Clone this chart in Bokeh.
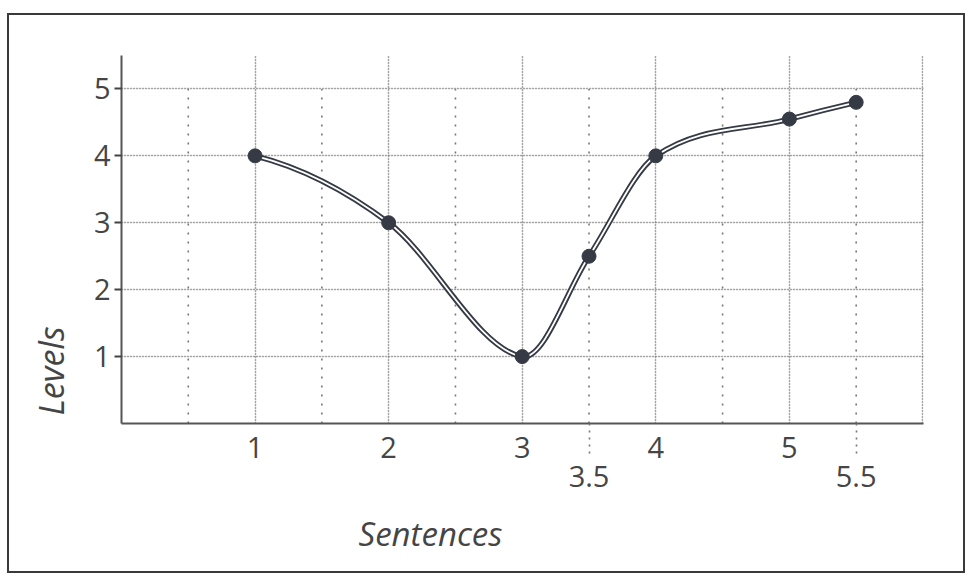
from bokeh.plotting import figure
from bokeh.models import (LinearAxis, FixedTicker, Grid, Range1d, Title)
from bokeh.embed import file_html
from bokeh.resources import INLINE

# ---- data ----
sentences = [1, 2, 3, 3.5, 4, 5, 5.5]
levels = [4, 3, 1, 2.5, 4, 4.55, 4.8]
x_ticks_row1 = [1, 2, 3, 4, 5]
x_ticks_row2 = [3.5, 5.5]
y_ticks = [1, 2, 3, 4, 5]
x_grid_major = [1, 2, 3, 4, 5, 6]
x_grid_half = [0.5, 1.5, 2.5, 3.5, 4.5, 5.5]
x_title = "Sentences"
y_title = "Levels"

FONT = "Open Sans"
TXT = "#454545"
DARK = "#353a45"

p = figure(width=958, height=560, output_backend="svg", toolbar_location=None,
           x_axis_location=None, y_axis_location=None,
           x_range=Range1d(0, 6.004), y_range=Range1d(0, 5.5),
           min_border_left=112, min_border_right=44, min_border_top=40,
           min_border_bottom=152)
p.margin = (13, 0, 0, 7)
p.styles = {"border": "2px solid #3a3a3a", "box-sizing": "border-box"}
p.outline_line_color = None
p.background_fill_color = "white"
p.border_fill_color = "white"

# grids
gx = Grid(dimension=0, ticker=FixedTicker(ticks=x_grid_major),
          grid_line_color="#666666", grid_line_width=1.5, grid_line_dash="1 2")
gy = Grid(dimension=1, ticker=FixedTicker(ticks=y_ticks),
          grid_line_color="#666666", grid_line_width=1.5, grid_line_dash="1 2")
p.add_layout(gx)
p.add_layout(gy)
p.segment(x0=x_grid_half, y0=[0] * len(x_grid_half), x1=x_grid_half,
          y1=[max(y_ticks)] * len(x_grid_half),
          line_color="#777777", line_width=1.6, line_dash="2 7")

# smooth curve (cubic Hermite through the data points, drawn as beziers)
n = len(sentences)
slopes = []
for i in range(n):
    if 0 < i < n - 1:
        slopes.append((levels[i + 1] - levels[i - 1]) / (sentences[i + 1] - sentences[i - 1]))
    else:
        slopes.append(None)
sec0 = (levels[1] - levels[0]) / (sentences[1] - sentences[0])
slopes[0] = 2 * sec0 - slopes[1]
secn = (levels[-1] - levels[-2]) / (sentences[-1] - sentences[-2])
slopes[-1] = 2 * secn - slopes[-2]
bx0, by0, bx1, by1, cx0, cy0, cx1, cy1 = [], [], [], [], [], [], [], []
for i in range(n - 1):
    h = sentences[i + 1] - sentences[i]
    bx0.append(sentences[i]); by0.append(levels[i])
    bx1.append(sentences[i + 1]); by1.append(levels[i + 1])
    cx0.append(sentences[i] + h / 3); cy0.append(levels[i] + slopes[i] * h / 3)
    cx1.append(sentences[i + 1] - h / 3); cy1.append(levels[i + 1] - slopes[i + 1] * h / 3)
p.bezier(x0=bx0, y0=by0, x1=bx1, y1=by1, cx0=cx0, cy0=cy0, cx1=cx1, cy1=cy1,
         line_color=DARK, line_width=5.5)
p.bezier(x0=bx0, y0=by0, x1=bx1, y1=by1, cx0=cx0, cy0=cy0, cx1=cx1, cy1=cy1,
         line_color="white", line_width=1.8)
p.scatter(sentences, levels, size=14, fill_color=DARK, line_color=DARK)

# axes
ya = LinearAxis(ticker=FixedTicker(ticks=y_ticks))
ya.axis_line_color = "#555555"
ya.axis_line_width = 2
ya.major_tick_in = 0
ya.major_tick_out = 7
ya.major_tick_line_color = "#444444"
ya.major_tick_line_width = 2
ya.minor_tick_line_color = None
ya.major_label_standoff = 4
ya.major_label_text_font = FONT
ya.major_label_text_font_size = "29px"
ya.major_label_text_color = TXT
p.add_layout(ya, "left")

xa = LinearAxis(ticker=FixedTicker(ticks=x_ticks_row1, minor_ticks=x_ticks_row2))
xa.axis_line_color = "#555555"
xa.axis_line_width = 2
xa.major_tick_in = 0
xa.major_tick_out = 0
xa.major_tick_line_color = None
xa.minor_tick_in = 0
xa.minor_tick_out = 30
xa.minor_tick_line_color = "#777777"
xa.minor_tick_line_width = 1.6
xa.minor_tick_line_dash = "2 5"
xa.major_label_standoff = -17
xa.major_label_text_font = FONT
xa.major_label_text_font_size = "29px"
xa.major_label_text_color = TXT
p.add_layout(xa, "below")

xb = LinearAxis(ticker=FixedTicker(ticks=x_ticks_row2))
xb.axis_line_color = None
xb.major_tick_in = 0
xb.major_tick_out = 0
xb.major_tick_line_color = None
xb.minor_tick_line_color = None
xb.major_label_standoff = 5
xb.major_label_text_font = FONT
xb.major_label_text_font_size = "29px"
xb.major_label_text_color = TXT
p.add_layout(xb, "below")

t_below = Title(text=x_title, align="left", offset=237, text_font=FONT,
                text_font_size="33px", text_font_style="italic", text_color=TXT)
t_left = Title(text=y_title, align="left", offset=8, text_font=FONT,
               text_font_size="34px", text_font_style="italic", text_color=TXT)
if "standoff" in Title.properties():
    t_below.standoff = 38
    t_left.standoff = 33
p.add_layout(t_below, "below")
p.add_layout(t_left, "left")

open("out.html", "w").write(file_html(p, INLINE))
